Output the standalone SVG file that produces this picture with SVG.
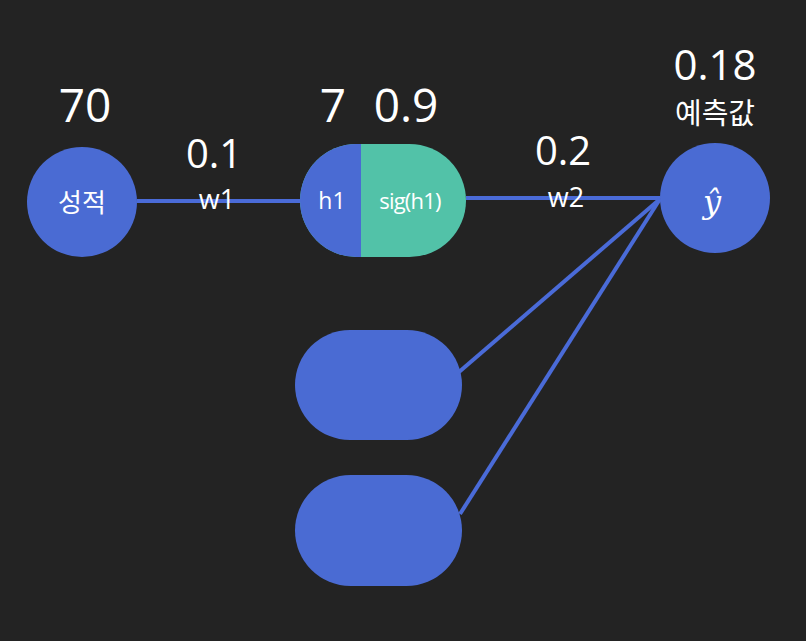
<svg xmlns="http://www.w3.org/2000/svg" width="806" height="641" viewBox="0 0 806 641">
<style>
.lbl{font-family:"Open Sans","Noto Sans CJK KR",sans-serif;fill:#ffffff;text-anchor:middle}
.big{font-size:46px}
.mid{font-size:40px}
.sm{font-size:27px}
.blue{fill:#4a6bd3}
.teal{fill:#52c2a8}
.edge{stroke:#4a6bd8;stroke-width:4;fill:none}
</style>
<rect width="806" height="641" fill="#232323"/>
<g id="connectors">
<line class="edge" x1="137" y1="201" x2="303" y2="201"/>
<line class="edge" x1="466" y1="198" x2="660" y2="198"/>
<line class="edge" x1="660" y1="199" x2="459" y2="372"/>
<line class="edge" x1="660" y1="199" x2="460" y2="514"/>
</g>
<g id="grade">
<circle class="blue" cx="82" cy="202" r="55"/>
<text class="lbl" x="82" y="212" font-size="26">성적</text>
<text class="lbl big" x="85" y="122">70</text>
</g>
<g id="w1">
<text class="lbl mid" x="214" y="168">0.1</text>
<text class="lbl sm" x="217" y="209">w1</text>
</g>
<g id="h1">
<rect class="teal" x="300" y="144" width="166" height="113" rx="56.5"/>
<path class="blue" d="M361 144 H356.5 A56.5 56.5 0 0 0 356.5 257 H361 Z"/>
<text class="lbl" x="332" y="209" font-size="23">h1</text>
<text class="lbl" x="410" y="209" font-size="22" letter-spacing="-0.8">sig(h1)</text>
<text class="lbl big" x="333" y="122">7</text>
<text class="lbl big" x="406" y="122">0.9</text>
</g>
<g id="w2">
<text class="lbl mid" x="563" y="165">0.2</text>
<text class="lbl sm" x="566" y="207">w2</text>
</g>
<g id="yhat">
<circle class="blue" cx="715" cy="198" r="55"/>
<text x="712" y="213" font-family="DejaVu Serif,serif" font-style="italic" font-size="32" fill="#ffffff" text-anchor="middle">ŷ</text>
<text class="lbl" x="715" y="80" font-size="42">0.18</text>
<text class="lbl" x="715" y="124" font-size="29">예측값</text>
</g>
<g id="h2">
<rect class="blue" x="295" y="330" width="167" height="110" rx="55"/>
</g>
<g id="h3">
<rect class="blue" x="295" y="475" width="167" height="111" rx="55.5"/>
</g>
</svg>
